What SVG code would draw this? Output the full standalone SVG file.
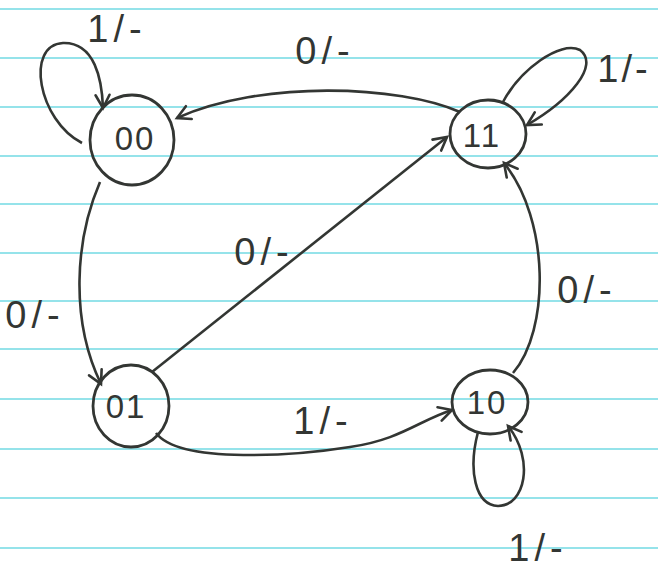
<svg xmlns="http://www.w3.org/2000/svg" width="658" height="569" viewBox="0 0 658 569">
<style>
.rule{stroke:#95e3ea;stroke-width:2}
.node{fill:none;stroke:#333633;stroke-width:2.8}
.edge{fill:none;stroke:#333633;stroke-width:2.6;marker-end:url(#arr)}
.lbl{font-family:"Liberation Sans",Arial,sans-serif;font-size:38px;fill:#333633;letter-spacing:5px;text-anchor:middle}
.st{font-family:"Liberation Sans",Arial,sans-serif;font-size:33px;fill:#333633;letter-spacing:2px;text-anchor:middle;dominant-baseline:central}
</style>
<defs>
<marker id="arr" markerUnits="userSpaceOnUse" markerWidth="30" markerHeight="30" refX="0" refY="0" viewBox="-15 -15 30 30" orient="auto" overflow="visible">
<path d="M -13 -7 L 0 0 L -13 7" fill="none" stroke="#333633" stroke-width="2.6" stroke-linecap="round"/>
</marker>
</defs>
<rect width="658" height="569" fill="#ffffff"/>
<g id="paper">
<line class="rule" x1="0" y1="9" x2="658" y2="9"/>
<line class="rule" x1="0" y1="58" x2="658" y2="58"/>
<line class="rule" x1="0" y1="107" x2="658" y2="107"/>
<line class="rule" x1="0" y1="156" x2="658" y2="156"/>
<line class="rule" x1="0" y1="204" x2="658" y2="204"/>
<line class="rule" x1="0" y1="253" x2="658" y2="253"/>
<line class="rule" x1="0" y1="301" x2="658" y2="301"/>
<line class="rule" x1="0" y1="349" x2="658" y2="349"/>
<line class="rule" x1="0" y1="399" x2="658" y2="399"/>
<line class="rule" x1="0" y1="449" x2="658" y2="449"/>
<line class="rule" x1="0" y1="498" x2="658" y2="498"/>
<line class="rule" x1="0" y1="548" x2="658" y2="548"/>
</g>
<g id="connectors">
<path class="edge" d="M 82 143 C 38 120, 25 45, 63 43 C 95 42, 102 80, 103 108"/>
<path class="edge" d="M 503 102 C 520 70, 560 40, 580 50 C 600 65, 570 100, 527 125"/>
<path class="edge" d="M 478 432 C 468 470, 475 505, 498 506 C 525 506, 535 460, 508 426"/>
<path class="edge" d="M 460 112 C 400 85, 260 80, 177 118"/>
<path class="edge" d="M 100 182 C 75 240, 70 320, 101 384"/>
<path class="edge" d="M 152 372 L 447 137"/>
<path class="edge" d="M 156 433 C 180 465, 300 455, 350 447 C 400 440, 420 420, 452 410"/>
<path class="edge" d="M 513 373 C 550 330, 550 220, 504 163"/>
<text class="lbl" x="117" y="42">1/-</text>
<text class="lbl" x="325" y="64">0/-</text>
<text class="lbl" x="624" y="82" style="letter-spacing:3px">1/-</text>
<text class="lbl" x="35" y="328">0/-</text>
<text class="lbl" x="264" y="265">0/-</text>
<text class="lbl" x="587" y="303">0/-</text>
<text class="lbl" x="323" y="434">1/-</text>
<text class="lbl" x="538" y="561">1/-</text>
</g>
<g id="s00"><ellipse class="node" cx="132" cy="140" rx="42" ry="45"/><text class="st" x="135" y="138">00</text></g>
<g id="s11"><ellipse class="node" cx="488" cy="134" rx="38" ry="34"/><text class="st" x="482" y="135">11</text></g>
<g id="s01"><ellipse class="node" cx="131" cy="406" rx="38" ry="41"/><text class="st" x="126" y="406">01</text></g>
<g id="s10"><ellipse class="node" cx="490" cy="402" rx="38" ry="32"/><text class="st" x="487" y="402">10</text></g>
</svg>
